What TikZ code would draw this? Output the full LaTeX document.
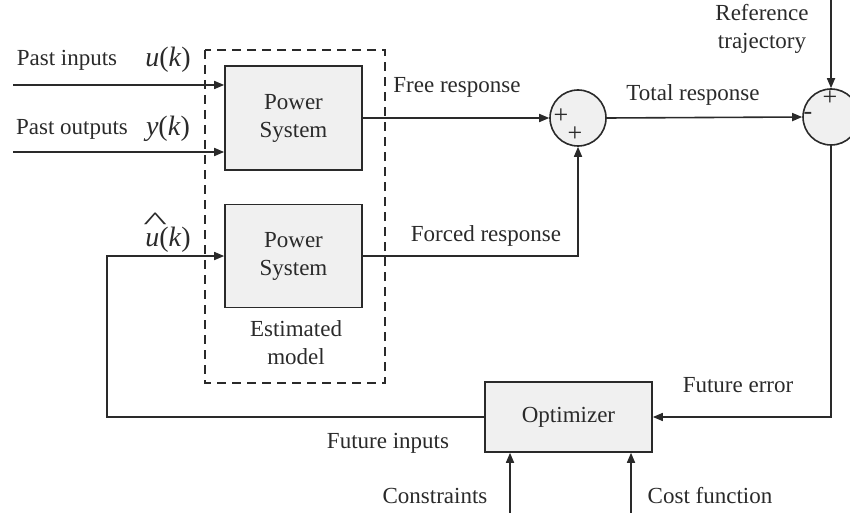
\documentclass[tikz,border=0pt]{standalone}
\usepackage{fontspec}
\setmainfont{Liberation Serif}
\usetikzlibrary{arrows.meta,calc}
\definecolor{ln}{HTML}{2A2A2A}
\definecolor{bx}{HTML}{F0F0F0}
\begin{document}
\begin{tikzpicture}[x=1pt,y=-1pt,
  every node/.style={font=\fontsize{23}{28}\selectfont, text=ln},
  blk/.style={draw=ln, line width=1.6pt, fill=bx, align=center, inner sep=0pt},
  sumnode/.style={draw=ln, line width=1.6pt, fill=bx, circle, minimum size=56pt, inner sep=0pt},
  conn/.style={draw=ln, line width=1.6pt},
  arr/.style={conn, -{Triangle[length=10pt,width=8pt]}},
  lbl/.style={inner sep=0pt, anchor=base},
  mth/.style={inner sep=0pt, anchor=base, font=\fontsize{28}{32}\selectfont},
  sgn/.style={inner sep=0pt, font=\fontsize{26}{26}\selectfont}
]
\useasboundingbox (0,0) rectangle (850,513);
\clip (0,0) rectangle (850,513);

% dashed estimated model box
\draw[ln, line width=1.5pt, dash pattern=on 9pt off 6pt] (205,50) rectangle (385,383);

\node[blk, minimum width=137pt, minimum height=104pt] (ps1) at (293.5,118) {Power\\System};
\node[blk, minimum width=137pt, minimum height=103pt] (ps2) at (293.5,256) {Power\\System};
\node[blk, minimum width=167pt, minimum height=70pt] (opt) at (568.5,417) {Optimizer};
\node[sumnode] (s1) at (578,118) {};
\node[sumnode] (s2) at (831,117) {};

\coordinate (pi) at (13,85);
\coordinate (po) at (13,152);
\coordinate (ref) at (831,-2);
\coordinate (c1) at (510,515);
\coordinate (c2) at (631,515);
\coordinate (fb) at (107,256);

\draw[arr] (pi) -- (pi -| ps1.west);
\draw[arr] (po) -- (po -| ps1.west);
\draw[arr] (ps1.east) -- (s1.west);
\draw[arr] (ps2.east) -| (s1.south);
\draw[arr] (s1.east) -- (s2.west);
\draw[arr] (ref) -- (s2.north);
\draw[arr] (s2.south) |- (opt.east);
\draw[arr] (opt.west) -| (fb) -- (ps2.west);
\draw[arr] (c1) -- (c1 |- opt.south);
\draw[arr] (c2) -- (c2 |- opt.south);

% signs
\node[sgn] (p1) at (561,116) {+};
\node[sgn] (p2) at (575,134) {+};
\node[sgn] (p3) at (830,98) {+};
\node[sgn] (m1) at (808,116) {-};

% labels
\node[lbl] (tpi) at (67,66) {Past inputs};
\node[mth] (tu) at (168,67) {\textit{u}(\textit{k})};
\node[lbl] (tpo) at (72,135) {Past outputs};
\node[mth] (ty) at (168,136) {\textit{y}(\textit{k})};
\node[mth] (tuh) at (168,246) {\makebox[0pt][l]{\hspace{-2pt}\raisebox{17pt}{\scalebox{1.8}[0.9]{\textasciicircum}}}\textit{u}(\textit{k})};
\node[lbl] (tfr) at (457,93) {Free response};
\node[lbl] (ttr) at (693,101) {Total response};
\node[lbl] (tfo) at (486,241) {Forced response};
\node[lbl, align=center, anchor=north] (tem) at (296,320) {Estimated\\model};
\node[lbl, align=center, anchor=north] (trt) at (762,4) {Reference\\trajectory};
\node[lbl] (tfe) at (738,392) {Future error};
\node[lbl] (tfi) at (388,448) {Future inputs};
\node[lbl] (tco) at (435,503) {Constraints};
\node[lbl] (tcf) at (710,503) {Cost function};
\end{tikzpicture}
\end{document}
